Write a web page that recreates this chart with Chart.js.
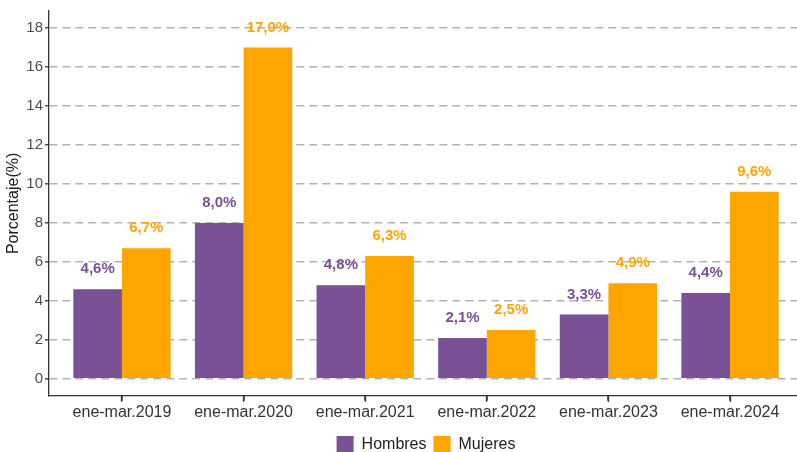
<!DOCTYPE html>
<html lang="es">
<head>
    <meta charset="UTF-8">
    <title>Porcentaje por sexo</title>
    <script src="https://cdn.jsdelivr.net/npm/chart.js"></script>
    <style>
        html, body { margin: 0; padding: 0; background: #fff; overflow: hidden; }
        .wrap { width: 803px; height: 463px; position: relative; }
    </style>
</head>
<body>
    <div class="wrap"><canvas id="chart"></canvas></div>

    <script>
        // Datos
        const periodos = ['ene-mar.2019', 'ene-mar.2020', 'ene-mar.2021', 'ene-mar.2022', 'ene-mar.2023', 'ene-mar.2024'];
        const hombres = [4.6, 8.0, 4.8, 2.1, 3.3, 4.4];
        const mujeres = [6.7, 17.0, 6.3, 2.5, 4.9, 9.6];
        const yTicks = [0, 2, 4, 6, 8, 10, 12, 14, 16, 18];

        const colHombres = '#7A5195';
        const colMujeres = '#FFA500';
        const fontFam = '"Liberation Sans", Arial, sans-serif';

        // etiquetas encima de cada barra + marcas del eje x
        const valueLabels = {
            id: 'valueLabels',
            afterDatasetsDraw(chart) {
                const ctx = chart.ctx;
                ctx.save();
                ctx.font = 'bold 15px ' + fontFam;
                ctx.textAlign = 'center';
                ctx.textBaseline = 'middle';
                chart.data.datasets.forEach((ds, i) => {
                    chart.getDatasetMeta(i).data.forEach((bar, j) => {
                        const v = ds.data[j].y;
                        ctx.fillStyle = ds.backgroundColor;
                        ctx.fillText(v.toFixed(1).replace('.', ',') + '%', bar.x, bar.y - 20);
                    });
                });
                // marcas bajo cada categoría
                const sx = chart.scales.x;
                const y0 = chart.chartArea.bottom;
                ctx.fillStyle = '#333';
                periodos.forEach((p, i) => {
                    const x = Math.round(sx.getPixelForValue(i));
                    ctx.fillRect(x - 0.75, y0, 1.5, 5);
                });
                ctx.restore();
            }
        };

        new Chart(document.getElementById('chart'), {
            type: 'bar',
            data: {
                datasets: [
                    { label: 'Hombres', data: hombres.map((v, i) => ({ x: i, y: v })), backgroundColor: colHombres, borderWidth: 0 },
                    { label: 'Mujeres', data: mujeres.map((v, i) => ({ x: i, y: v })), backgroundColor: colMujeres, borderWidth: 0 }
                ]
            },
            options: {
                responsive: true,
                maintainAspectRatio: false,
                animation: false,
                layout: { padding: { top: 9, right: 0, left: 0, bottom: 0 } },
                datasets: { bar: { categoryPercentage: 0.8, barPercentage: 1.0 } },
                plugins: {
                    tooltip: { enabled: false },
                    legend: {
                        position: 'bottom',
                        fullSize: false,
                        labels: {
                            boxWidth: 17,
                            boxHeight: 17,
                            padding: 7,
                            color: '#222',
                            font: { family: fontFam, size: 16 }
                        }
                    }
                },
                scales: {
                    x: {
                        type: 'linear',
                        offset: false,
                        min: -0.6,
                        max: 5.6,
                        afterBuildTicks: s => { s.ticks = periodos.map((p, i) => ({ value: i })); },
                        afterFit: s => { s.height += 6; },
                        grid: { offset: false, drawOnChartArea: false, drawTicks: true, tickLength: 6, tickColor: '#333', tickWidth: 1.3 },
                        border: { color: '#333', width: 1.3 },
                        ticks: {
                            callback: v => periodos[v],
                            maxRotation: 0,
                            autoSkip: false,
                            padding: 1,
                            color: '#333',
                            font: { family: fontFam, size: 16 }
                        }
                    },
                    y: {
                        min: -0.87,
                        max: 18.87,
                        afterBuildTicks: s => { s.ticks = yTicks.map(v => ({ value: v })); },
                        afterFit: s => { s.width = 49; },
                        grid: { color: '#b3b3b3', lineWidth: 1.6, tickLength: 4, tickColor: '#333', tickWidth: 1.3, tickBorderDash: [] },
                        border: { color: '#333', width: 1.3, dash: [8, 5] },
                        ticks: {
                            padding: 2,
                            color: '#4d4d4d',
                            font: { family: fontFam, size: 15 }
                        },
                        title: {
                            display: true,
                            text: 'Porcentaje(%)',
                            color: '#1a1a1a',
                            padding: { top: 4, bottom: 0 },
                            font: { family: fontFam, size: 16 }
                        }
                    }
                }
            },
            plugins: [valueLabels]
        });
    </script>
</body>
</html>
